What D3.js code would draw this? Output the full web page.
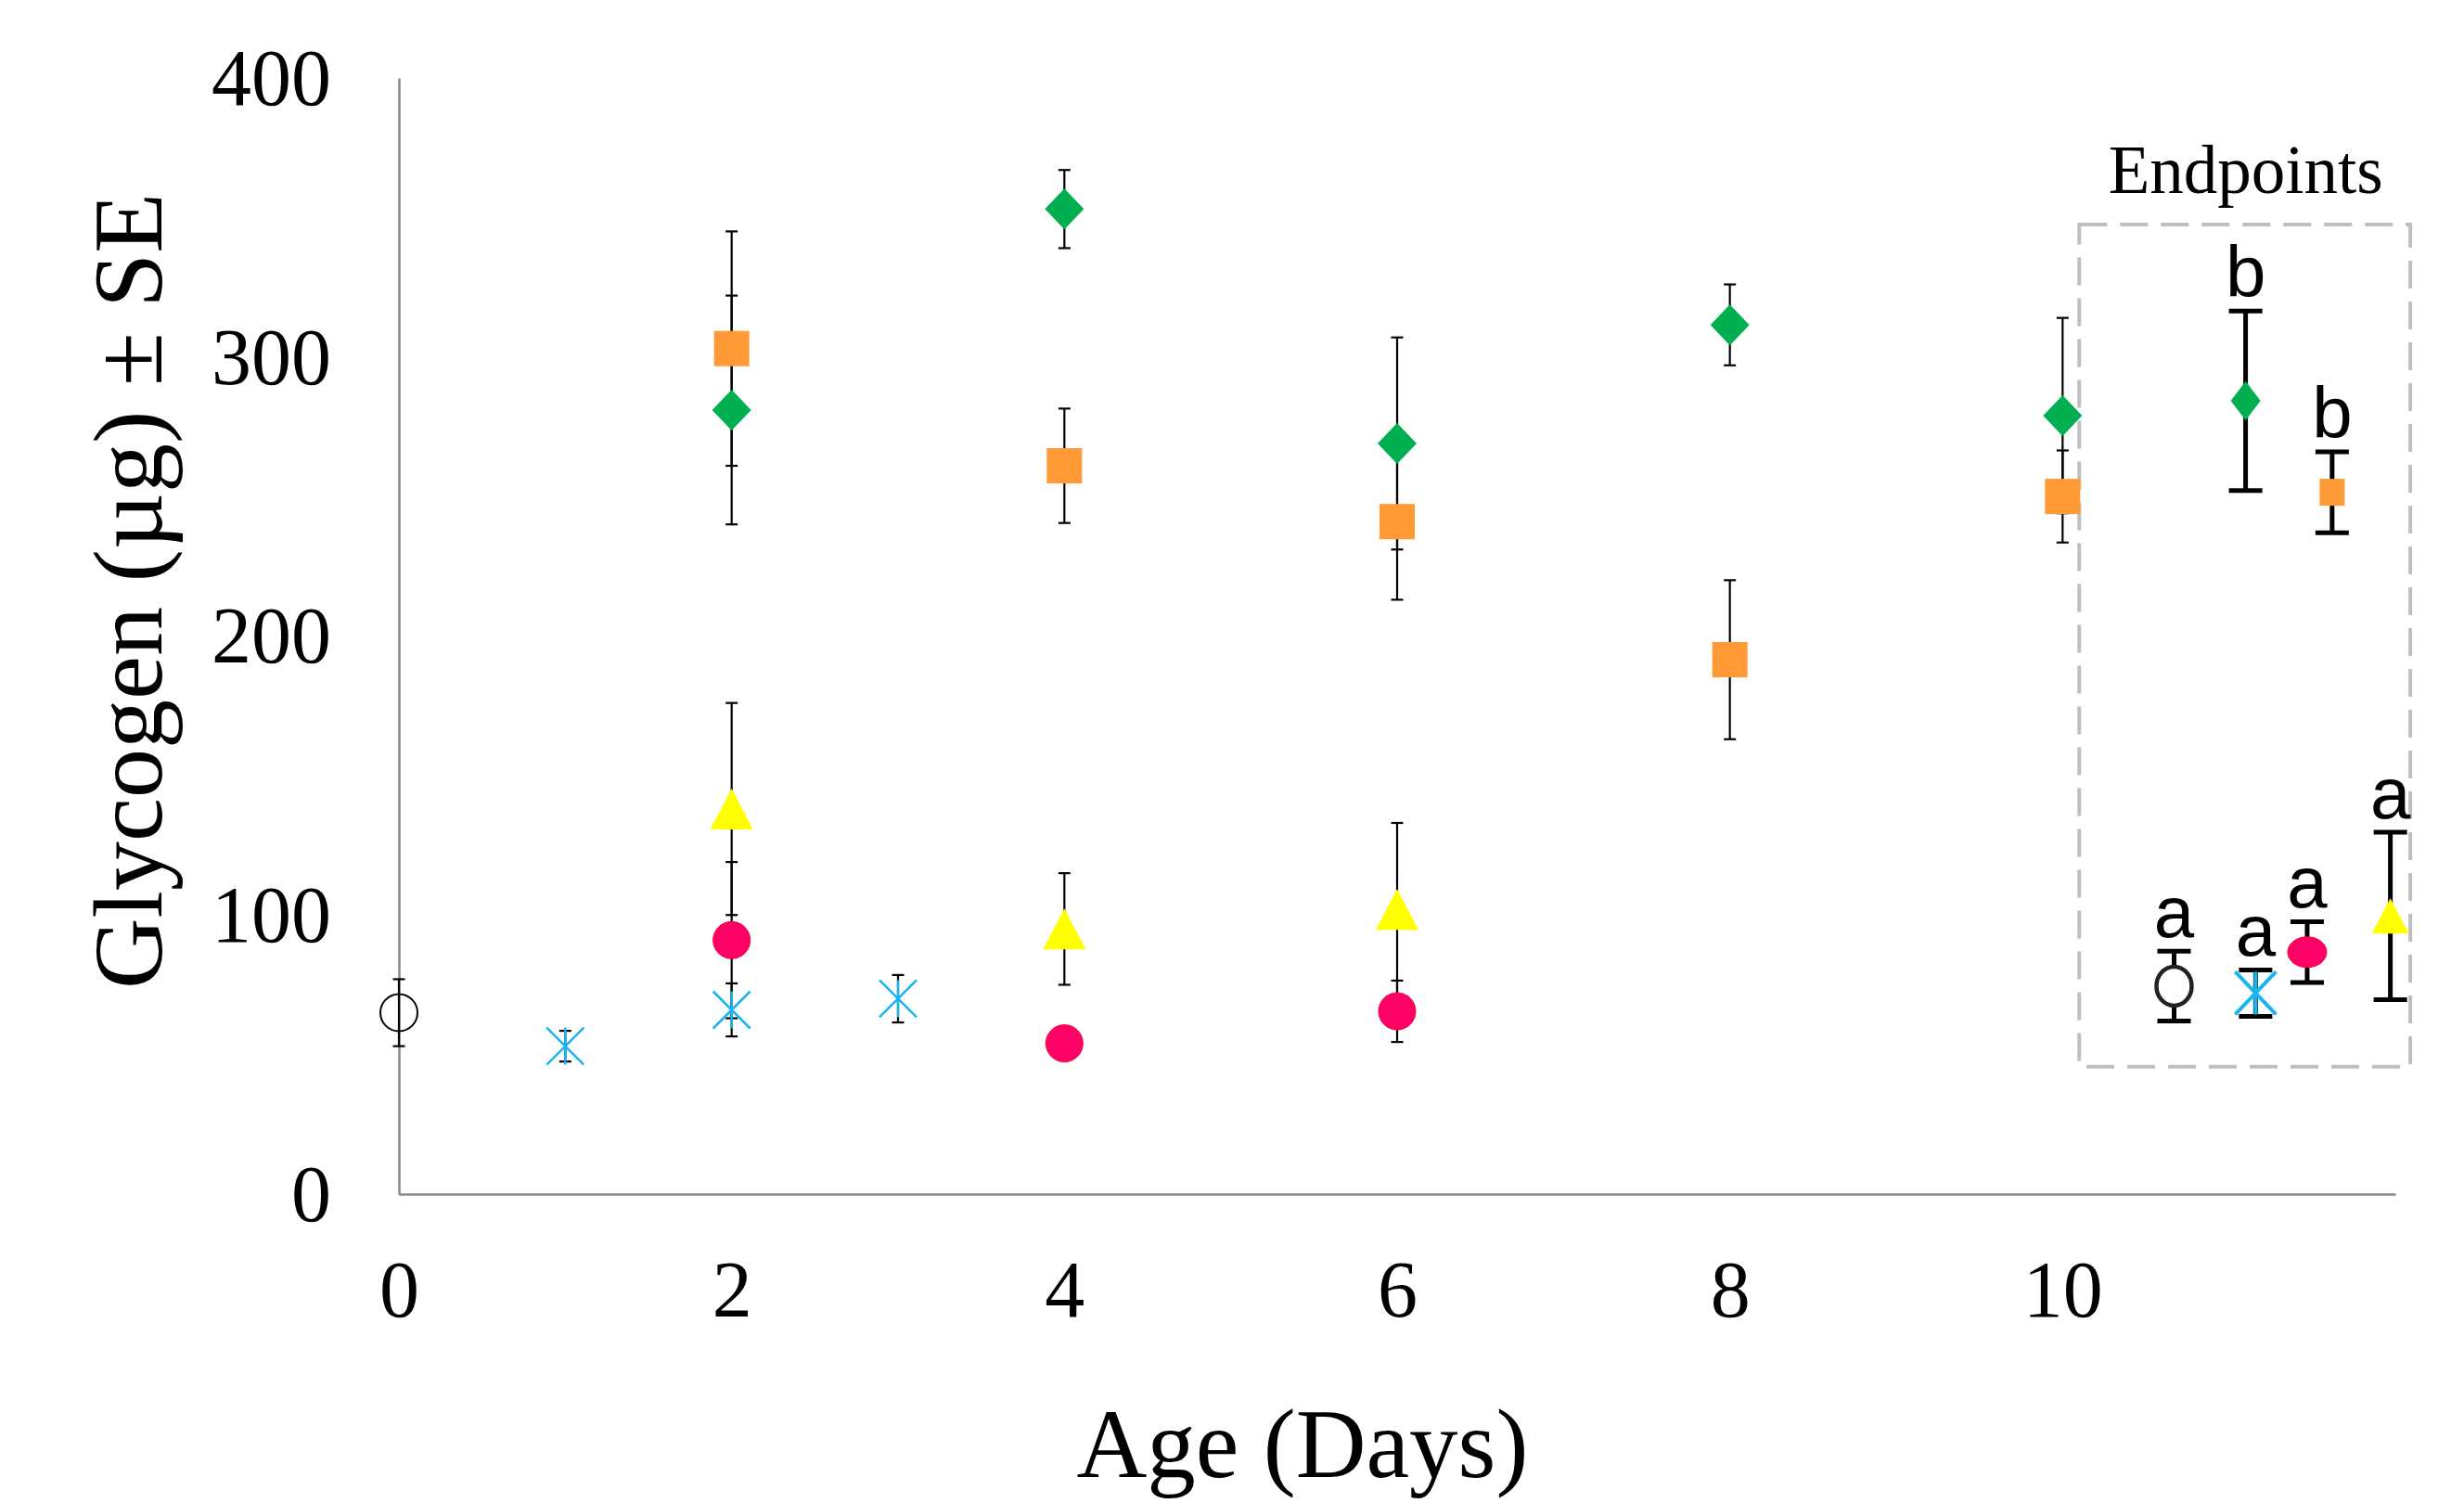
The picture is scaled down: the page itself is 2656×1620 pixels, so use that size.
<!DOCTYPE html>
<html>
<head>
<meta charset="utf-8">
<script src="https://cdn.jsdelivr.net/npm/d3@7"></script>
<style>
  body { margin: 0; background: #fff; }
  svg { display: block; }
</style>
</head>
<body>
<div id="chart"></div>
<script>
// day 0 control (open circle)
const circleDays = [0];
const circleMean = [65];
const circleSE = [12];

// blue asterisk
const starDays = [1, 2, 3];
const starMean = [53, 66, 70];
const starSE = [5.5, 9.5, 8.5];

// yellow triangle
const triDays = [2, 4, 6];
const triMean = [138, 95, 102];
const triSE = [38, 20, 31];

// pink circle
const dotDays = [2, 4, 6];
const dotMean = [91, 54, 65.5];
const dotSE = [28, 3, 11];

// green diamond
const diamondDays = [2, 4, 6, 8, 10];
const diamondMean = [281, 353, 269, 311.5, 279];
const diamondSE = [41, 14, 38, 14.5, 35];

// orange square
const squareDays = [2, 4, 6, 8, 10];
const squareMean = [303, 261, 241, 191.5, 250];
const squareSE = [42, 20.5, 28, 28.5, 16.5];

// endpoints (inside dashed box)
const endShape = ['circle', 'star', 'diamond', 'dot', 'square', 'triangle'];
const endPos = [10.67, 11.16, 11.10, 11.47, 11.62, 11.97];
const endMean = [74.5, 72, 284.3, 86.7, 251.5, 99.7];
const endSE = [12.5, 8.3, 32.2, 10.9, 14.5, 30];
const endLetter = ['a', 'a', 'b', 'a', 'b', 'a'];

// dashed box extent in data units
const boxDays = [10.1, 12.09];
const boxValues = [45.6, 347.5];

const xTicks = [0, 2, 4, 6, 8, 10];
const yTicks = [0, 100, 200, 300, 400];

const W = 2656, H = 1620;
const serif = '"Liberation Serif", "Times New Roman", serif';

const svg = d3.select('#chart').append('svg')
    .attr('width', W)
    .attr('height', H)
    .style('background', '#fff');

const x = d3.scaleLinear().domain([0, 12]).range([430, 2582]);
const y = d3.scaleLinear().domain([0, 400]).range([1287, 84]);

//AXES
const gx = svg.append('g')
    .attr('transform', `translate(0,${y(0)})`)
    .call(d3.axisBottom(x).tickValues(xTicks).tickSize(0).tickSizeOuter(0).tickPadding(71));
const gy = svg.append('g')
    .attr('transform', `translate(${x(0)},0)`)
    .call(d3.axisLeft(y).tickValues(yTicks).tickSize(0).tickSizeOuter(0).tickPadding(73));

[gx, gy].forEach(g => {
    g.select('.domain').attr('stroke', '#898989').attr('stroke-width', 2.5);
    g.selectAll('text')
        .attr('fill', '#000')
        .style('font-family', serif)
        .style('font-size', '86px');
});
gy.selectAll('text').attr('dy', '0.33em');

//AXIS TITLES
svg.append('text')
    .attr('x', 1404).attr('y', 1592)
    .attr('text-anchor', 'middle')
    .style('font-family', serif).style('font-size', '105px')
    .text('Age (Days)');
svg.append('text')
    .attr('transform', 'translate(174,637) rotate(-90)')
    .attr('text-anchor', 'middle')
    .style('font-family', serif).style('font-size', '106px')
    .text('Glycogen (µg) ± SE');

//ENDPOINTS BOX
svg.append('rect')
    .attr('x', x(boxDays[0])).attr('y', y(boxValues[1]))
    .attr('width', x(boxDays[1]) - x(boxDays[0]))
    .attr('height', y(boxValues[0]) - y(boxValues[1]))
    .attr('fill', 'none')
    .attr('stroke', '#bfbfbf')
    .attr('stroke-width', 4)
    .attr('stroke-dasharray', '30 14');
svg.append('text')
    .attr('x', (x(boxDays[0]) + x(boxDays[1])) / 2 + 1).attr('y', 208)
    .attr('text-anchor', 'middle')
    .style('font-family', serif).style('font-size', '73px')
    .text('Endpoints');

// build rows
function rows(days, mean, se, shape) {
    return days.map((d, i) => ({ day: d, mean: mean[i], se: se[i], shape: shape }));
}
const main = [].concat(
    rows(diamondDays, diamondMean, diamondSE, 'diamond'),
    rows(squareDays, squareMean, squareSE, 'square'),
    rows(triDays, triMean, triSE, 'triangle'),
    rows(dotDays, dotMean, dotSE, 'dot'),
    rows(starDays, starMean, starSE, 'star'),
    rows(circleDays, circleMean, circleSE, 'open')
);
const ends = endPos.map((d, i) => ({ day: d, mean: endMean[i], se: endSE[i], shape: endShape[i], letter: endLetter[i] }));

// error bars
function errorBars(sel, data, cap, width) {
    const g = sel.append('g').attr('stroke', '#000').attr('stroke-width', width);
    data.forEach(d => {
        const cx = x(d.day), t = y(d.mean + d.se), b = y(d.mean - d.se);
        g.append('line').attr('x1', cx).attr('x2', cx).attr('y1', t).attr('y2', b);
        g.append('line').attr('x1', cx - cap / 2).attr('x2', cx + cap / 2).attr('y1', t).attr('y2', t);
        g.append('line').attr('x1', cx - cap / 2).attr('x2', cx + cap / 2).attr('y1', b).attr('y2', b);
    });
}
errorBars(svg, main, 13, 2.2);
errorBars(svg, ends, 36, 5);

// markers: big = main plot, small = endpoints picture
function marker(sel, shape, cx, cy, big) {
    const g = sel.append('g').attr('transform', `translate(${cx},${cy})`);
    if (shape === 'diamond') {
        const w = big ? 21 : 16, h = big ? 22 : 21;
        g.append('path').attr('d', `M0,${-h}L${w},0L0,${h}L${-w},0Z`).attr('fill', '#00b050');
    } else if (shape === 'square') {
        const w = big ? 19 : 13.5, h = big ? 19 : 14.5;
        g.append('rect').attr('x', -w).attr('y', -h).attr('width', 2 * w).attr('height', 2 * h).attr('fill', '#ff9a36');
    } else if (shape === 'triangle') {
        const w = big ? 23 : 20, h = big ? 22 : 19;
        g.append('path').attr('d', `M0,${-h}L${w},${h}L${-w},${h}Z`).attr('fill', '#ffff00');
    } else if (shape === 'dot') {
        g.append('ellipse').attr('rx', big ? 20 : 21).attr('ry', big ? 20 : 16.5)
            .attr('fill', '#ff0066').attr('stroke', '#ff0033').attr('stroke-width', 1);
    } else if (shape === 'star') {
        const w = big ? 20 : 22, h = big ? 20 : 23;
        g.append('path')
            .attr('d', `M${-w},${-h}L${w},${h}M${-w},${h}L${w},${-h}M0,${-h}L0,${h}`)
            .attr('stroke', '#1ab4f0').attr('stroke-width', big ? 2.5 : 4).attr('fill', 'none');
    } else if (shape === 'open') {
        g.append('circle').attr('r', 20).attr('fill', 'none').attr('stroke', '#000').attr('stroke-width', 2);
    } else if (shape === 'circle') {
        g.append('ellipse').attr('rx', 19).attr('ry', 21).attr('fill', '#fff').attr('stroke', '#222').attr('stroke-width', 4.5);
    }
}
main.forEach(d => marker(svg, d.shape, x(d.day), y(d.mean), true));
ends.forEach(d => marker(svg, d.shape, x(d.day), y(d.mean), false));

// significance letters
svg.append('g').selectAll('text')
    .data(ends)
    .join('text')
    .attr('x', d => x(d.day))
    .attr('y', d => y(d.mean + d.se) - 15)
    .attr('text-anchor', 'middle')
    .style('font-family', '"Liberation Sans", Arial, sans-serif')
    .style('font-size', '78px')
    .text(d => d.letter);
</script>
</body>
</html>
